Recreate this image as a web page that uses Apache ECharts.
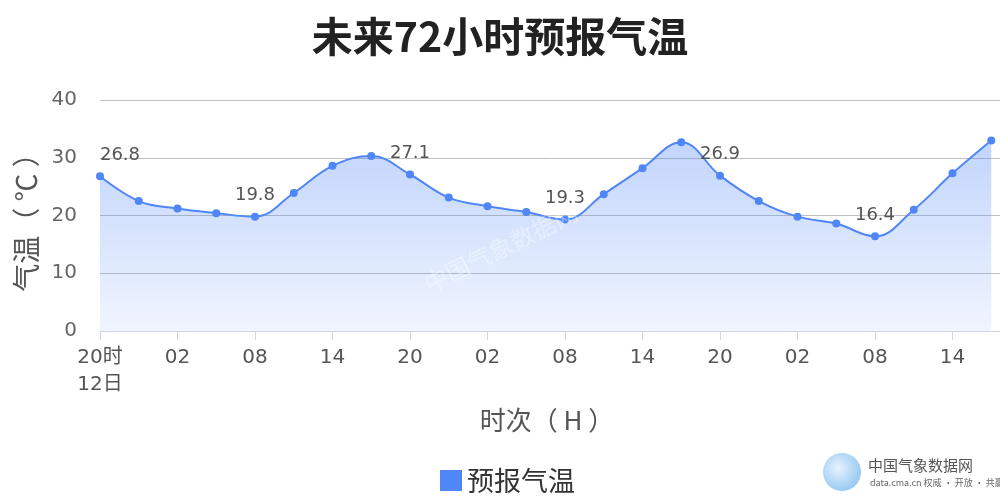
<!DOCTYPE html>
<html>
<head>
<meta charset="utf-8">
<script src="https://cdn.jsdelivr.net/npm/echarts@6/dist/echarts.min.js"></script>
<style>html,body{margin:0;padding:0;background:#fff}#c{width:1000px;height:500px}</style>
</head>
<body>
<div id="c"></div>
<script>
// categories: every 3 hours from 20时 on the 12th (last category has no forecast value)
var hours = ['20时\n12日','23','02','05','08','11','14','17','20','23','02','05','08','11','14','17','20','23','02','05','08','11','14','17','20'];
var temps = [26.8,22.5,21.2,20.4,19.8,23.9,28.6,30.3,27.1,23.1,21.6,20.6,19.3,23.7,28.2,32.7,26.9,22.5,19.8,18.6,16.4,21.0,27.3,33.0,null];
var labeledIdx = [0,4,8,12,16,20];
var yTicks = [0,10,20,30,40];

var FONT = '"DejaVu Sans","Noto Sans CJK SC",sans-serif';
var CJK = '"Noto Sans CJK SC","DejaVu Sans",sans-serif';

var data = temps.map(function(v,i){
  var item = {value: v};
  if (labeledIdx.indexOf(i) >= 0) {
    item.label = {show: true};
    if (i === 0) item.label.offset = [20, 0];
  }
  return item;
});

var chart = echarts.init(document.getElementById('c'), null, {renderer:'canvas'});
chart.setOption({
  animation: false,
  title: {
    text: '未来72小时预报气温',
    left: 'center', top: 11,
    textStyle: {fontFamily: CJK, fontSize: 41, fontWeight: 'bold', color: '#222'}
  },
  legend: {
    data: ['预报气温'],
    left: 435, top: 462,
    itemWidth: 22, itemHeight: 21, itemGap: 5,
    icon: 'rect',
    textStyle: {fontFamily: CJK, fontSize: 27, color: '#333'}
  },
  grid: {left: 100, right: -30, top: 100, bottom: 169, containLabel: false, outerBoundsMode: 'none'},
  xAxis: {
    type: 'category',
    data: hours,
    boundaryGap: false,
    name: '时次（ H ）',
    nameLocation: 'middle',
    nameGap: 76,
    nameTextStyle: {fontFamily: CJK, fontSize: 26, color: '#555', padding: [0, 36, 0, 0], verticalAlign: 'top'},
    axisLine: {lineStyle: {color: '#ccd6eb', width: 1}},
    axisTick: {show: true, interval: 1, length: 9, lineStyle: {color: '#ccd6eb'}},
    axisLabel: {interval: 1, fontFamily: FONT, fontSize: 20, color: '#555', margin: 13, lineHeight: 27},
    splitLine: {show: false}
  },
  yAxis: {
    type: 'value',
    min: yTicks[0], max: yTicks[yTicks.length-1], interval: 10,
    name: '气温（ ℃ ）',
    nameLocation: 'middle',
    nameGap: 55,
    nameTextStyle: {fontFamily: CJK, fontSize: 28, color: '#555'},
    axisLine: {show: false},
    axisTick: {show: false},
    axisLabel: {fontFamily: FONT, fontSize: 20, color: '#666', margin: 23},
    splitLine: {lineStyle: {color: '#c0c0c0', width: 1}}
  },
  series: [{
    name: '预报气温',
    type: 'line',
    data: data,
    smooth: 0.4,
    symbol: 'circle',
    symbolSize: 8,
    itemStyle: {color: '#5086f7'},
    lineStyle: {color: '#5086f7', width: 2},
    label: {show: false, position: 'top', distance: 8, fontFamily: FONT, fontSize: 18, color: '#555'},
    areaStyle: {
      color: new echarts.graphic.LinearGradient(0, 0, 0, 1, [
        {offset: 0, color: 'rgba(80,134,247,0.5)'},
        {offset: 1, color: 'rgba(80,134,247,0.12)'}
      ])
    }
  }],
  graphic: [
    {
      type: 'text', left: 420, top: 200, rotation: 0.46, z: 10,
      style: {text: '中国气象数据网', fontFamily: CJK, fontSize: 24, fill: 'rgba(255,255,255,0.35)'}
    },
    {
      type: 'circle', shape: {cx: 842, cy: 472, r: 19},
      style: {fill: new echarts.graphic.RadialGradient(0.4, 0.4, 0.7, [
        {offset: 0, color: '#e6f2ff'}, {offset: 1, color: '#8cc4f0'}
      ])}
    },
    {
      type: 'text', left: 868, top: 458,
      style: {text: '中国气象数据网', fontFamily: CJK, fontSize: 15, fill: '#555'}
    },
    {
      type: 'text', left: 870, top: 478,
      style: {text: 'data.cma.cn 权威 · 开放 · 共赢', fontFamily: CJK, fontSize: 9, fill: '#666'}
    }
  ]
});
</script>
</body>
</html>
